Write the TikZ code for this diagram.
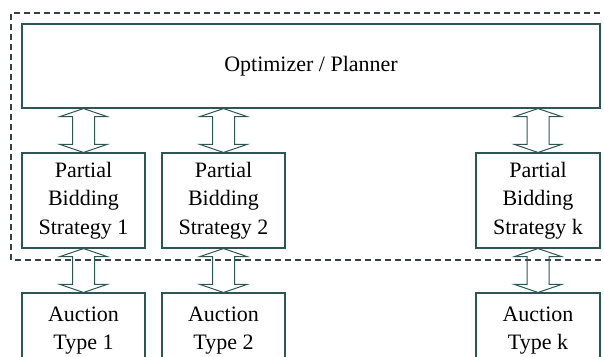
\documentclass[tikz,border=0pt]{standalone}
\usepackage{fontspec}
\setmainfont{Liberation Serif}
\usetikzlibrary{calc}
\definecolor{edge}{RGB}{45,85,85}
\definecolor{dash}{RGB}{55,65,65}
\tikzset{
  box/.style={draw=edge, line width=1.1pt, inner sep=0pt, align=center,
    font=\fontsize{22}{28.5}\selectfont},
  arr/.style={draw=edge, line width=1pt, line join=miter},
  frame/.style={draw=dash, line width=1.5pt, dash pattern=on 6pt off 4pt}
}
\newcommand\dblarr[2]{%
  \draw[arr] (#1.south) -- ++(23.5,8) -- ++(-12.5,0)
    -- ($(#2.north)+(11,-8)$) -- ++(12.5,0) -- (#2.north)
    -- ++(-23.5,-8) -- ++(12.5,0) -- ($(#1.south)+(-11,8)$)
    -- ++(-12.5,0) -- cycle;}
\begin{document}
\begin{tikzpicture}[x=1pt,y=-1pt]
\useasboundingbox (0,0) rectangle (604,356);
\draw[frame] (620,13) -- (11,13) -- (11,260) -- (620,260);
\node[box, minimum width=578pt, minimum height=84pt] (opt) at (311,66) {Optimizer / Planner};
\node[box, minimum width=123pt, minimum height=95pt] (p1) at (83.5,200.5) {Partial\\Bidding\\Strategy 1};
\node[box, minimum width=123pt, minimum height=95pt] (p2) at (223.5,200.5) {Partial\\Bidding\\Strategy 2};
\node[box, minimum width=124pt, minimum height=95pt] (pk) at (538,200.5) {Partial\\Bidding\\Strategy k};
\node[box, minimum width=123pt, minimum height=74pt, text depth=4pt] (a1) at (83.5,330) {Auction\\Type 1};
\node[box, minimum width=123pt, minimum height=74pt, text depth=4pt] (a2) at (223.5,330) {Auction\\Type 2};
\node[box, minimum width=124pt, minimum height=74pt, text depth=4pt] (ak) at (538,330) {Auction\\Type k};
\coordinate (o1) at (opt.south -| p1.north);
\coordinate (o2) at (opt.south -| p2.north);
\coordinate (ok) at (opt.south -| pk.north);
\dblarr{o1}{p1}
\dblarr{o2}{p2}
\dblarr{ok}{pk}
\dblarr{p1}{a1}
\dblarr{p2}{a2}
\dblarr{pk}{ak}
\end{tikzpicture}
\end{document}
